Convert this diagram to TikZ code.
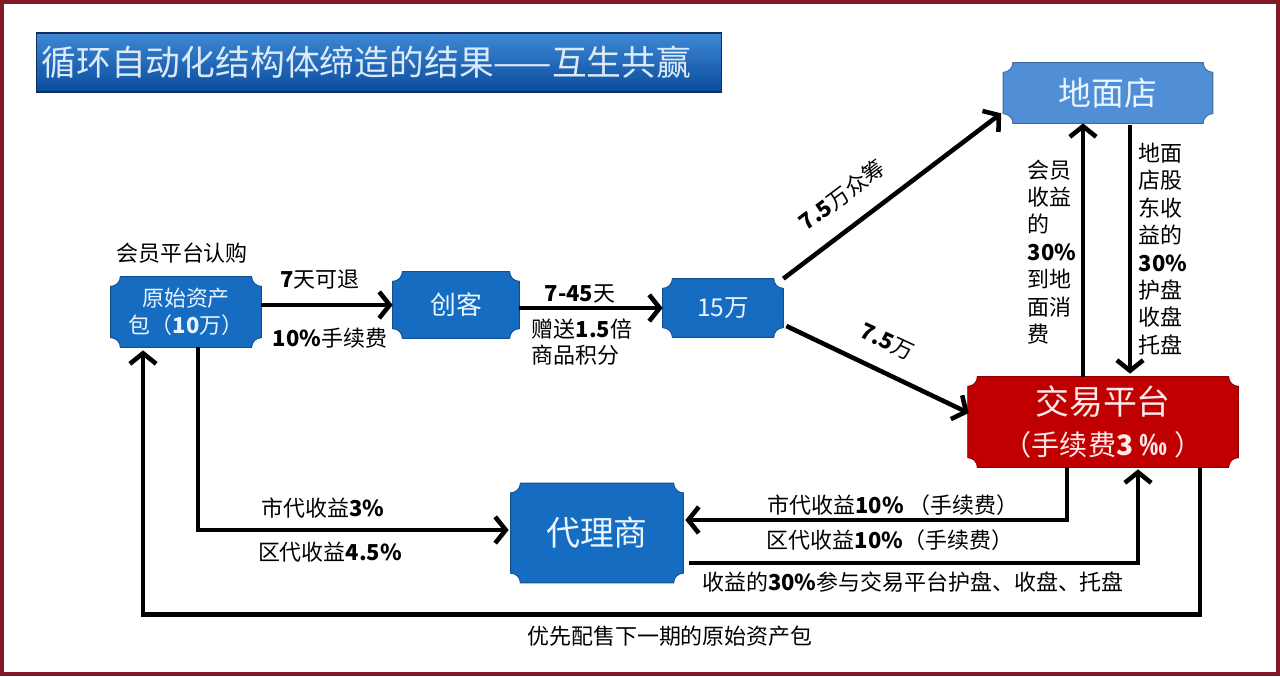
\documentclass[tikz,border=0pt]{standalone}
\usepackage{fontspec}
\setmainfont{Noto Sans CJK SC}
\definecolor{boxblue}{RGB}{21,108,192}
\definecolor{shopblue}{RGB}{80,143,214}
\definecolor{platred}{RGB}{192,0,0}
\definecolor{boxtext}{RGB}{232,244,255}
\definecolor{plattext}{RGB}{255,232,232}
\definecolor{titletop}{RGB}{62,136,214}
\definecolor{titlebot}{RGB}{10,76,156}
\definecolor{titleedge}{RGB}{20,45,90}
\definecolor{titletext}{RGB}{220,234,248}
\definecolor{framered}{RGB}{130,25,40}
\usetikzlibrary{arrows.meta,positioning,calc}
\pgfdeclarelayer{background}
\pgfsetlayers{background,main}

% box with hollow corners, drawn behind a named node
\newcommand{\plaque}[2]{%
  \path[fill=#2, draw=#2!75!black, line width=0.5pt]
    let \p1=(#1.south west), \p2=(#1.north east) in
    (\x1+5.5pt,\y1) -- (\x2-5.5pt,\y1)
    arc[start angle=180, end angle=90, radius=5.5pt] -- (\x2,\y2-5.5pt)
    arc[start angle=270, end angle=180, radius=5.5pt] -- (\x1+5.5pt,\y2)
    arc[start angle=0, end angle=-90, radius=5.5pt] -- (\x1,\y1+5.5pt)
    arc[start angle=90, end angle=0, radius=5.5pt] -- cycle;}

\begin{document}
\begin{tikzpicture}[x=0.02cm, y=-0.02cm,
  box/.style={text=boxtext, align=center, inner sep=0pt},
  lbl/.style={font=\fontsize{12.5}{15}\selectfont, inner sep=0pt, align=left},
  vlbl/.style={lbl, font=\fontsize{12.5}{15.6}\selectfont},
  arrow/.style={-{Straight Barb[length=6pt,width=15pt]}, line width=2.6pt},
]

% Frame and title
\useasboundingbox (0,0) rectangle (1280,676);
\draw[framered, line width=2.4pt] (2,2) rectangle (1278,674);
\node[draw=titleedge, line width=0.6pt, top color=titletop, bottom color=titlebot,
  text=titletext, font=\fontsize{19.8}{22}\selectfont, text width=13.5cm,
  inner xsep=0.11cm, inner ysep=0pt, minimum height=1.18cm, align=left]
  (title) at (379,62.5) {循环自动化结构体缔造的结果——互生共赢};

% Boxes
\node[box, minimum width=3.0cm, minimum height=1.4cm,
  font=\fontsize{12.5}{15.3}\selectfont] (pkg) at (186,312)
  {原始资产\\包（\textbf{10}万）};
\node[box, minimum width=2.52cm, minimum height=1.32cm,
  font=\fontsize{14.7}{17}\selectfont] (ck) at (456,305) {创客};
\node[box, minimum width=2.4cm, minimum height=1.16cm,
  font=\fontsize{14}{16}\selectfont] (w15) at (723,308) {15万};
\node[box, minimum width=4.18cm, minimum height=1.2cm,
  font=\fontsize{18.7}{21}\selectfont] (shop) at (1108,93) {地面店};
\node[box, text=plattext, minimum width=5.4cm, minimum height=1.8cm,
  font=\fontsize{19.3}{22}\selectfont] (plat) at (1103,422)
  {交易平台\\[1pt]{\fontsize{16}{18}\selectfont （手续费\textbf{3 ‰} ）}};
\node[box, minimum width=3.44cm, minimum height=1.98cm,
  font=\fontsize{19.3}{22}\selectfont] (agent) at (597,533) {代理商};

\begin{pgfonlayer}{background}
\fill[white] (0,0) rectangle (1280,676);
\foreach \nd/\col in {pkg/boxblue, ck/boxblue, w15/boxblue, agent/boxblue,
    shop/shopblue, plat/platred}
  \plaque{\nd}{\col};
\end{pgfonlayer}

% Arrows
\draw[arrow] (pkg.east |- ck) -- (ck.west);
\draw[arrow] (ck.east |- w15) -- (w15.west);
\draw[arrow] (w15.north east) -- ($(shop.south west)+(-2,-10)$);
\draw[arrow] ($(w15.east)+(3,18)$) -- ($(plat.west)+(1,-9)$);
\draw[arrow] ($(plat.north)+(-20,0)$) -- ($(shop.south)+(-25,0)$);
\draw[arrow] ($(shop.south)+(22,2)$) -- ($(plat.north)+(27,-3)$);
\draw[arrow] ($(plat.south)+(-36,0)$) |- ($(agent.east)+(2,-13)$);
\draw[arrow] ($(agent.east)+(6,30)$) -| ($(plat.south)+(35,2)$);
\draw[arrow] ($(pkg.south)+(12,0)$) |- ($(agent.west)+(-2,-3)$);
\draw[arrow] ($(plat.south)+(97,0)$) -- ++(0,147) -| ($(pkg.south)+(-43,3)$);

% Labels
\node[lbl] (lbuy) at (182,253) {会员平台认购};
\node[lbl] (l7) at (320,280) {\textbf{7}天可退};
\node[lbl] (lfee) at (330,338) {\textbf{10\%}手续费};
\node[lbl] (l745) at (580,294) {\textbf{7-45}天};
\node[lbl] (lgift) at (582,342) {赠送\textbf{1.5}倍\\商品积分};
\node[lbl, rotate=37] (lcrowd) at (842,195) {\textbf{7.5}万众筹};
\node[lbl, rotate=-25] (lhalf) at (887,342) {\textbf{7.5}万};
\node[vlbl] (lmem) at (1052,252) {会员\\收益\\的\\\textbf{30\%}\\到地\\面消\\费};
\node[vlbl] (lshare) at (1163,249) {地面\\店股\\东收\\益的\\\textbf{30\%}\\护盘\\收盘\\托盘};
\node[lbl] (lcity10) at (893,505) {市代收益\textbf{10\%} （手续费）};
\node[lbl] (larea10) at (890,540) {区代收益\textbf{10\%}（手续费）};
\node[lbl] (ljoin) at (913,582) {收益的\textbf{30\%}参与交易平台护盘、收盘、托盘};
\node[lbl] (lcity3) at (323,508) {市代收益\textbf{3\%}};
\node[lbl] (larea45) at (330,552) {区代收益\textbf{4.5\%}};
\node[lbl] (loffer) at (670,636) {优先配售下一期的原始资产包};

\end{tikzpicture}
\end{document}
